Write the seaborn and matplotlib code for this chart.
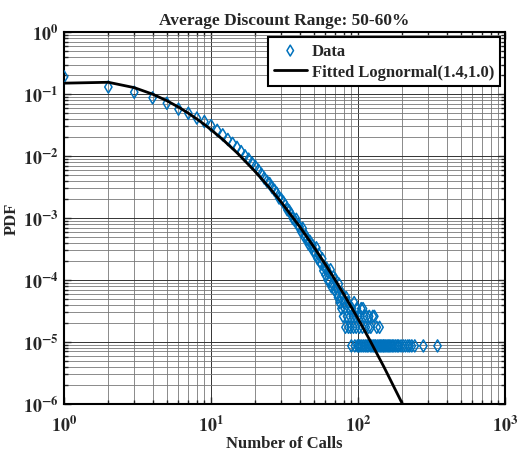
import numpy as np
import pandas as pd
import seaborn as sns
import matplotlib
matplotlib.use("Agg")
import matplotlib.pyplot as plt
from matplotlib.ticker import LogLocator, FixedLocator, FixedFormatter, NullFormatter

# data: pdf of number of calls, 50-60% discount range
head_calls = np.arange(1, 64)
head_pdf = [0.190, 0.130, 0.107, 0.087, 0.071, 0.057, 0.049, 0.041, 0.036, 0.031,
            0.026, 0.022, 0.0185, 0.0160, 0.0138, 0.0118, 0.0101, 0.0089, 0.0077, 0.0068,
            0.0059, 0.0051, 0.0044, 0.0039, 0.0036, 0.0031, 0.0028, 0.0025, 0.0021, 0.0020,
            0.0018, 0.0016, 0.00135, 0.0013, 0.00115, 0.00098, 0.00092, 0.00095, 0.00075, 0.00072,
            0.00060, 0.00068, 0.00050, 0.00052, 0.00045, 0.00038, 0.00042, 0.00033, 0.00036, 0.00030,
            0.00026, 0.00033, 0.00022, 0.00026, 0.00020, 0.00018, 0.00022, 0.00014, 0.00016, 0.00012,
            0.000155, 0.00010, 0.00013]

# tail: values sit on count levels (1 count ~ 8.6e-6)
tail_calls = [64, 65, 66, 67, 68, 69, 70, 71, 72, 73, 74, 75, 76, 77, 78, 79, 80, 81, 82, 83,
              84, 85, 86, 87, 88, 89, 90, 91, 92, 93, 94, 95, 96, 97, 98, 99, 100, 101, 102, 103,
              104, 105, 106, 107, 108, 109, 110, 112, 113, 114, 115, 117, 118, 119, 121, 122, 124, 126, 127, 129,
              130, 132, 134, 136, 139, 140, 142, 145, 148, 150, 153, 157, 160, 163, 167, 171, 175, 180, 185, 189,
              196, 203, 210, 218, 224, 232, 243, 278, 347]
tail_pdf = [9.46e-5, 1.46e-4, 7.7e-5, 8.6e-5, 1.12e-4, 6.9e-5, 1.03e-4, 7.7e-5, 6.0e-5, 5.2e-5,
            8.6e-5, 4.3e-5, 5.2e-5, 3.44e-5, 6.0e-5, 2.58e-5, 4.3e-5, 3.44e-5, 1.72e-5, 5.2e-5,
            2.58e-5, 4.3e-5, 1.72e-5, 3.44e-5, 2.58e-5, 1.72e-5, 8.6e-6, 3.44e-5, 2.58e-5, 1.72e-5,
            4.3e-5, 8.6e-6, 2.58e-5, 1.72e-5, 3.44e-5, 8.6e-6, 2.58e-5, 8.6e-6, 1.72e-5, 8.6e-6,
            2.58e-5, 3.44e-5, 8.6e-6, 1.72e-5, 3.44e-5, 8.6e-6, 2.58e-5, 8.6e-6, 1.72e-5, 2.58e-5,
            8.6e-6, 8.6e-6, 1.72e-5, 2.58e-5, 8.6e-6, 1.72e-5, 8.6e-6, 2.58e-5, 8.6e-6, 2.58e-5,
            8.6e-6, 8.6e-6, 1.72e-5, 8.6e-6, 8.6e-6, 1.72e-5, 8.6e-6, 8.6e-6, 8.6e-6, 8.6e-6,
            8.6e-6, 8.6e-6, 8.6e-6, 8.6e-6, 8.6e-6, 8.6e-6, 8.6e-6, 8.6e-6, 8.6e-6, 8.6e-6,
            8.6e-6, 8.6e-6, 8.6e-6, 8.6e-6, 8.6e-6, 8.6e-6, 8.6e-6, 8.6e-6, 8.6e-6]

# fitted lognormal curve
fit_calls = [1, 2, 3, 4, 5, 6, 7, 8, 9, 10, 12, 15, 20, 25, 30, 40, 50, 60, 70, 80,
             100, 120, 150, 200, 210]
fit_pdf = [0.150, 0.155, 0.127, 0.0997, 0.0781, 0.0616, 0.0491, 0.0396, 0.0323, 0.0265,
           0.01845, 0.0113, 0.00558, 0.00305, 0.00180, 0.000726, 0.000340, 0.0001765, 9.87e-5, 5.85e-5,
           2.35e-5, 1.07e-5, 3.92e-6, 1.0e-6, 7.9e-7]

data = pd.DataFrame({'calls': list(head_calls) + tail_calls, 'pdf': head_pdf + tail_pdf})
fit = pd.DataFrame({'calls': fit_calls, 'pdf': fit_pdf})

sns.set_style('ticks')
plt.rcParams['font.family'] = ['Liberation Serif', 'DejaVu Serif']
plt.rcParams['font.weight'] = 'bold'
plt.rcParams['mathtext.fontset'] = 'stix'

fig = plt.figure(figsize=(5.17, 4.60), dpi=100)
ax = fig.add_axes([0.124, 0.12, 0.853, 0.808])

sns.scatterplot(data=data, x='calls', y='pdf', ax=ax, marker='d', s=38,
                facecolor='none', edgecolor='#0072BD', linewidth=1.1, label='Data', zorder=3)
sns.lineplot(data=fit, x='calls', y='pdf', ax=ax, color='black', linewidth=2,
             label='Fitted Lognormal(1.4,1.0)', zorder=4)

ax.set_xscale('log')
ax.set_yscale('log')
ax.set_xlim(1, 1000)
ax.set_ylim(1e-6, 1)

xt = [1, 10, 100, 1000]
ax.xaxis.set_major_locator(FixedLocator(xt))
ax.xaxis.set_major_formatter(FixedFormatter([r'$\mathbf{10^{%d}}$' % i for i in range(4)]))
yt = [1e-6, 1e-5, 1e-4, 1e-3, 1e-2, 1e-1, 1]
ax.yaxis.set_major_locator(FixedLocator(yt))
ax.yaxis.set_major_formatter(FixedFormatter([r'$\mathbf{10^{%d}}$' % i for i in range(-6, 1)]))
ax.xaxis.set_minor_locator(LogLocator(base=10, subs=np.arange(2, 10), numticks=20))
ax.yaxis.set_minor_locator(LogLocator(base=10, subs=np.arange(2, 10), numticks=20))
ax.xaxis.set_minor_formatter(NullFormatter())
ax.yaxis.set_minor_formatter(NullFormatter())

ax.tick_params(which='both', direction='in', top=True, right=True, labelsize=13, width=1)
ax.tick_params(which='major', length=5)
ax.tick_params(which='minor', length=3)
ax.tick_params(axis='x', which='major', pad=8)
ax.tick_params(axis='y', which='major', pad=4)
ax.grid(which='major', color='#333333', linewidth=0.7)
ax.grid(which='minor', color='#777777', linewidth=0.6)
for s in ax.spines.values():
    s.set_linewidth(1.5)
    s.set_color('black')

ax.set_title('Average Discount Range: 50-60%', fontsize=12.5, fontweight='bold', pad=6)
ax.set_xlabel('Number of Calls', fontsize=12, fontweight='bold', labelpad=0)
ax.set_ylabel('PDF', fontsize=12, fontweight='bold', labelpad=2)

leg = ax.legend(loc='upper right', fancybox=False, framealpha=1, edgecolor='black',
                prop={'family': 'Liberation Serif', 'weight': 'bold', 'size': 12},
                borderaxespad=0.3, handlelength=2.0, handletextpad=0.3,
                labelspacing=0.3, borderpad=0.35, markerscale=0.9)
leg.get_frame().set_linewidth(1.5)

fig.savefig('out.png', dpi=100)
